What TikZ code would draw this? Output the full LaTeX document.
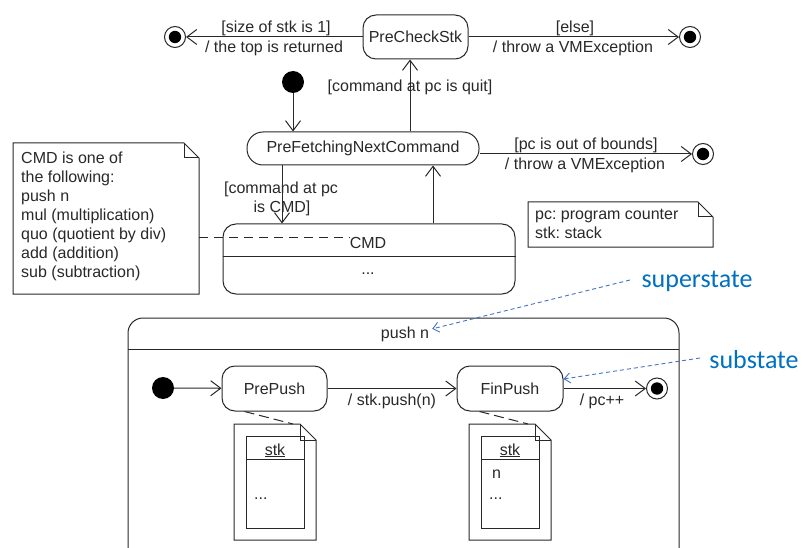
\documentclass[tikz,border=0pt]{standalone}
\usepackage{fontspec}
\setmainfont{Liberation Sans}
\newfontfamily\calib{Carlito}
\usetikzlibrary{arrows.meta,calc}
\definecolor{ln}{RGB}{40,40,40}
\definecolor{callout}{RGB}{0,112,192}
\definecolor{calline}{RGB}{68,114,196}
\frenchspacing
\begin{document}
\begin{tikzpicture}[x=1pt,y=-1pt,
  every node/.style={font=\fontsize{16}{19}\selectfont\frenchspacing, text=ln},
  statebox/.style={draw=ln, line width=1pt, rounded corners=13pt, inner sep=0pt},
  tr/.style={draw=ln, line width=1pt, -{Straight Barb[length=10pt,width=15pt,line width=1pt]}},
  lab/.style={anchor=base, inner sep=0pt},
  initst/.style={circle, fill=black, minimum size=22pt, inner sep=0pt},
  finst/.style={circle, draw=ln, line width=1pt, minimum size=21pt, inner sep=0pt,
    path picture={\fill[black] (path picture bounding box.center) circle (6.2pt);}},
  notebox/.style={draw=ln, line width=1pt},
  notelink/.style={draw=ln, line width=1pt, dash pattern=on 9pt off 6pt},
  calloutlink/.style={draw=calline, line width=0.9pt, dash pattern=on 4pt off 3pt,
    -{Straight Barb[length=6pt,width=10pt,line width=0.9pt]}},
  callouttext/.style={font=\calib\fontsize{26}{30}\selectfont, text=callout, anchor=base, inner sep=0pt},
  stkdoc/.pic={
    \draw[notebox] (0,0) -- (66,0) -- (82,16) -- (82,116) -- (0,116) -- cycle;
    \draw[notebox] (66,0) -- (66,16) -- (82,16);
    \draw[notebox] (12,12) rectangle (70,104);
    \draw[notebox] (12,35) -- (70,35);
    \coordinate (-top) at (59,0);
  }
]
\useasboundingbox (0,0) rectangle (803,548);

% ---------- states ----------
\node[statebox, minimum width=105pt, minimum height=44pt] (pcs) at (415.5,37) {PreCheckStk};
\node[statebox, rounded corners=16pt, minimum width=232pt, minimum height=33pt] (pf) at (363,148.5) {PreFetchingNextCommand};
\node[statebox, minimum width=292pt, minimum height=70pt] (cmd) at (369,259) {};
\draw[notebox] ($(cmd.west)+(0,-3)$) -- ($(cmd.east)+(0,-3)$);
\node[lab] (cmdname) at (368,248) {CMD};
\node[lab] (cmddots) at (368,274.5) {...};

\node[initst] (i1) at (293,82) {};
\node[finst] (f1) at (175,37) {};
\node[finst] (f2) at (690,37) {};
\node[finst] (f3) at (703,154) {};

% ---------- top transitions ----------
\draw[tr] (pcs) -- (f1);
\node[lab] at (276,33) {[size of stk is 1]};
\node[lab] at (274,53) {/ the top is returned};
\draw[tr] (pcs) -- (f2);
\node[lab] at (575,33) {[else]};
\node[lab] at (573,53) {/ throw a VMException};

\draw[tr] (i1) -- (pf.north -| i1);
\coordinate (x410) at (410,0);
\draw[tr] (pf.north -| x410) -- (pcs.south -| x410);
\node[lab] at (410,92) {[command at pc is quit]};

\coordinate (y154) at (0,154);
\draw[tr] (pf.east |- y154) -- (f3);
\node[lab] at (586,150) {[pc is out of bounds]};
\node[lab] at (585,170) {/ throw a VMException};

\coordinate (x282) at (282,0);
\draw[tr] (pf.south -| x282) -- (cmd.north -| x282);
\node[lab] at (281,194) {[command at pc};
\node[lab] at (282,213) {is CMD]};
\coordinate (x433) at (433,0);
\draw[tr] (cmd.north -| x433) -- (pf.south -| x433);

% ---------- notes ----------
\draw[notebox] (13,143) -- (184,143) -- (199,158) -- (199,294) -- (13,294) -- cycle;
\draw[notebox] (184,143) -- (184,158) -- (199,158);
\node[anchor=north west, inner sep=0pt, align=left] (n1) at (21,152)
  {CMD is one of\\the following:\\push n\\mul (multiplication)\\quo (quotient by div)\\add (addition)\\sub (subtraction)};
\coordinate (n1e) at (199,237);
\draw[notelink] (n1e) -- (cmdname.west |- n1e);

\draw[notebox] (528,202) -- (698,202) -- (713,217) -- (713,247) -- (528,247) -- cycle;
\draw[notebox] (698,202) -- (698,217) -- (713,217);
\node[anchor=north west, inner sep=0pt, align=left] (n2) at (535,209)
  {pc: program counter\\stk: stack};

% ---------- superstate ----------
\draw[notebox, rounded corners=15pt] (128,552) -- (128,318) -- (679,318) -- (679,552);
\draw[notebox] (128,349) -- (679,349);
\node[lab] (pushn) at (405,338) {push n};

\node[initst] (i2) at (163,388) {};
\node[statebox, minimum width=105pt, minimum height=45pt] (pp) at (274.5,388.5) {PrePush};
\node[statebox, minimum width=106pt, minimum height=45pt] (fp) at (510,388.5) {FinPush};
\node[finst] (f4) at (657,388.5) {};

\draw[tr] (i2) -- (pp);
\draw[tr] (pp) -- (fp);
\node[lab] at (392,405) {/ stk.push(n)};
\draw[tr] (fp) -- (f4);
\node[lab] at (602,405) {/ pc++};

% ---------- object docs ----------
\pic (d1) at (234,424) {stkdoc};
\pic (d2) at (469,424) {stkdoc};
\node[lab] at (275,455) {\underline{stk}};
\node[lab, anchor=base west] at (254,499) {...};
\node[lab] at (510,455) {\underline{stk}};
\node[lab, anchor=base west] at (492,478) {n};
\node[lab, anchor=base west] at (489,499) {...};
\draw[notelink, dash pattern=on 10pt off 5pt] ($(pp.south west)+(23,0)$) -- (d1-top);
\draw[notelink, dash pattern=on 10pt off 5pt] ($(fp.south west)+(23,0)$) -- (d2-top);

% ---------- callouts ----------
\node[callouttext] (sup) at (697,287) {superstate};
\node[callouttext] (sub) at (754,368) {substate};
\coordinate (supstart) at (630,280);
\coordinate (substart) at (700,358);
\draw[calloutlink] (supstart) -- ($(pushn.east)+(3,-5)$);
\draw[calloutlink] (substart) -- ($(fp.east)+(0,-9.5)$);
\end{tikzpicture}
\end{document}
